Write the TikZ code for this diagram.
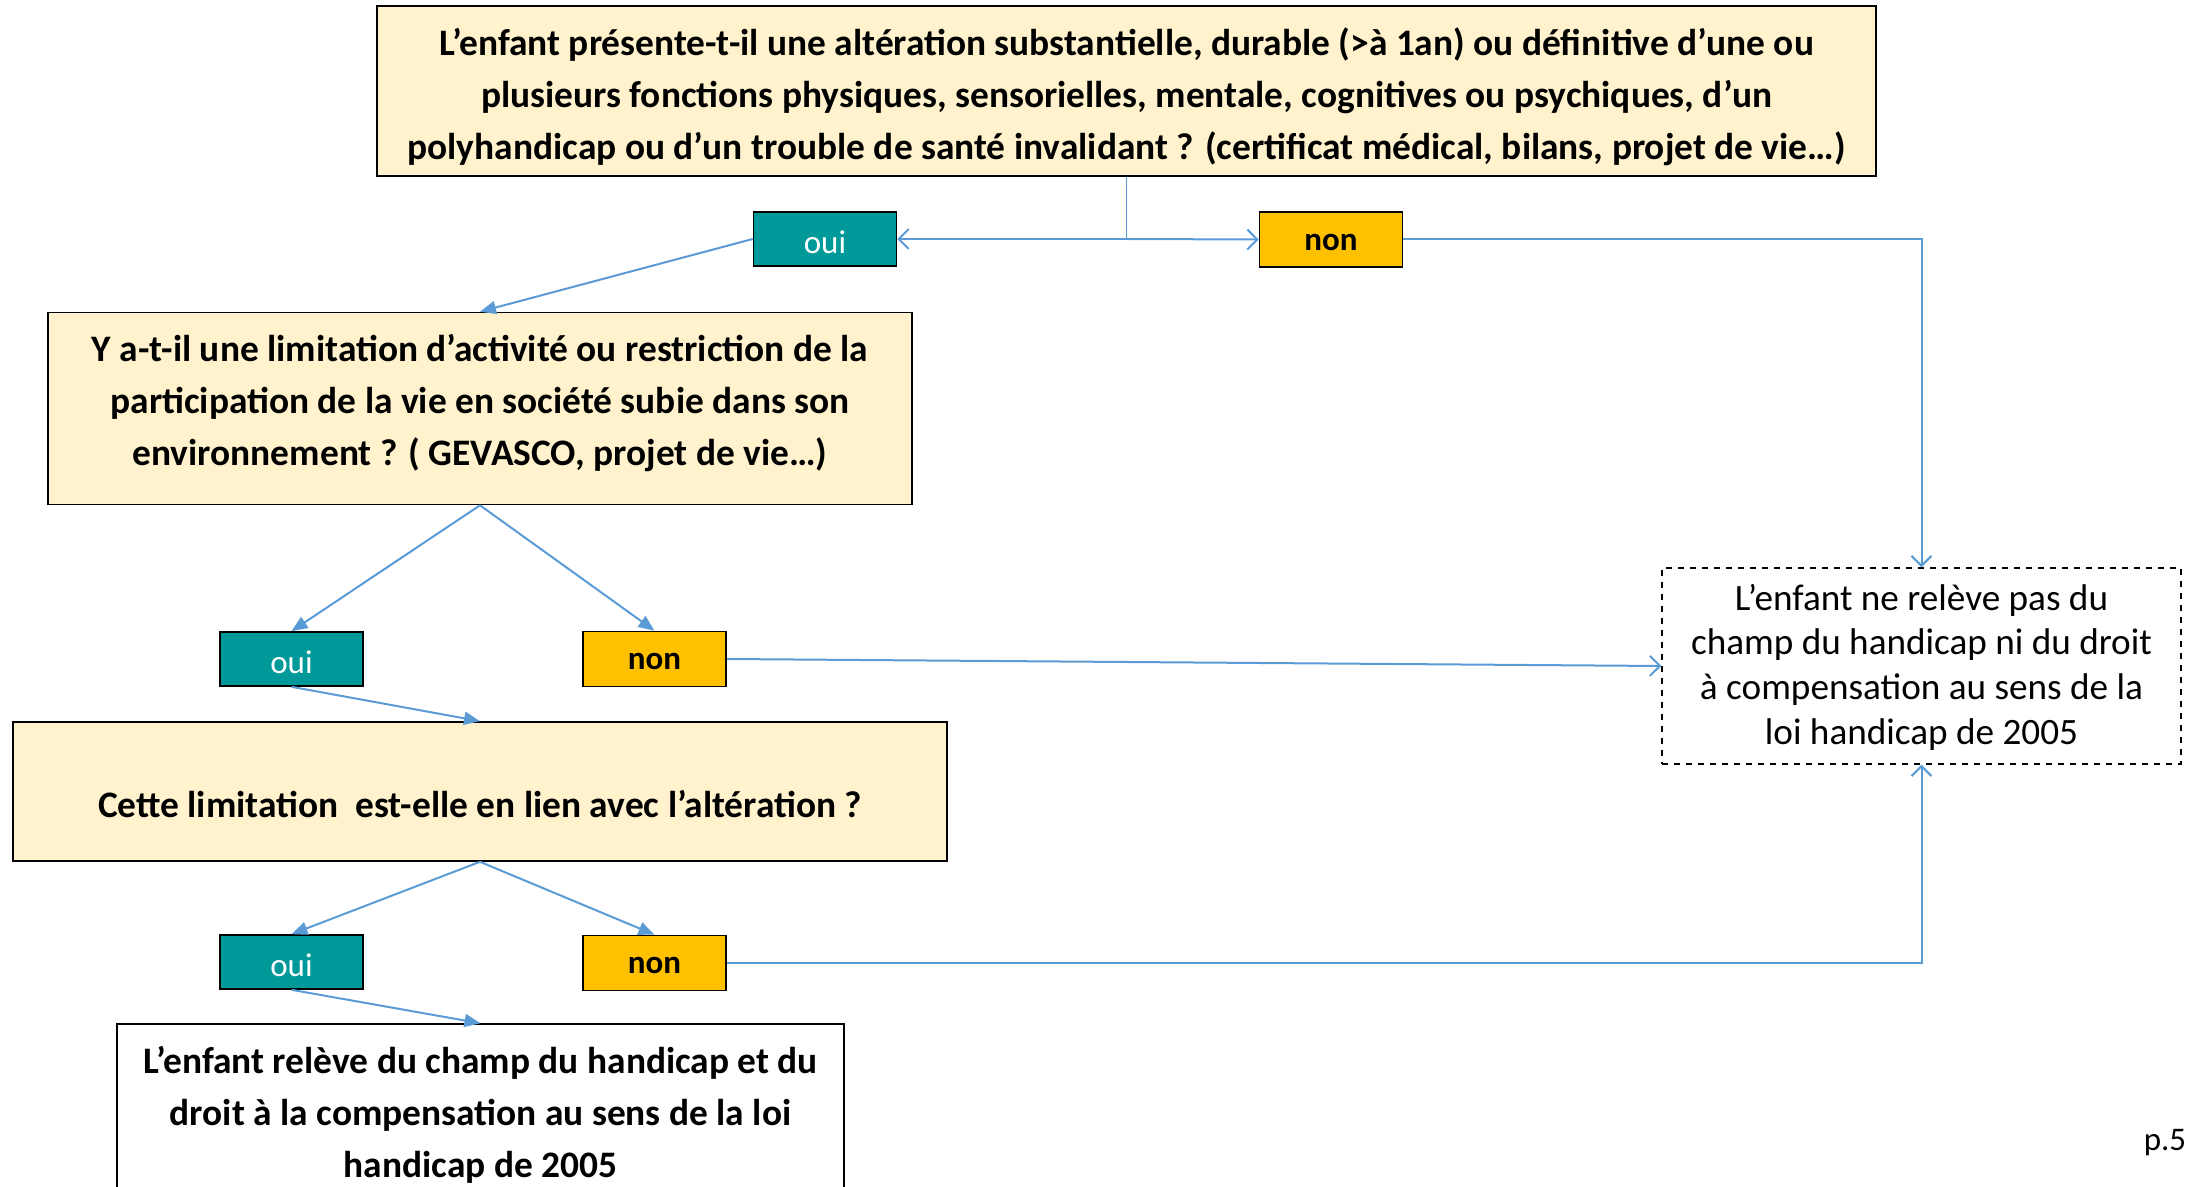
\documentclass[tikz,border=0pt]{standalone}
\usepackage{fontspec}
\setmainfont{Carlito}
\usetikzlibrary{arrows.meta}
\definecolor{beige}{HTML}{FFF2CC}
\definecolor{tealc}{HTML}{009999}
\definecolor{amber}{HTML}{FFC000}
\definecolor{linkc}{HTML}{5B9BD5}
\newcommand{\lowtxt}[1]{\raisebox{-1.4pt}[\height][0pt]{#1}}
\begin{document}
\begin{tikzpicture}[x=0.5pt,y=-0.5pt,
  qbox/.style={draw=black,line width=0.8pt,fill=beige,inner sep=0pt},
  endbox/.style={draw=black,line width=0.7pt,fill=white,inner sep=0pt},
  dbox/.style={draw=black,line width=0.7pt,dashed,fill=white,inner sep=0pt},
  qtext/.style={align=center,font=\fontsize{18.7}{25.9}\selectfont\bfseries,inner sep=0pt},
  dtext/.style={align=center,font=\fontsize{18.6}{22.3}\selectfont,inner sep=0pt},
  ouibox/.style={draw=black,line width=0.8pt,fill=tealc,text=white,minimum width=71.5pt,minimum height=27pt,inner sep=0pt,font=\fontsize{16.5}{20}\selectfont},
  nonbox/.style={draw=black,line width=0.8pt,fill=amber,text=black,minimum width=71.5pt,minimum height=27.5pt,inner sep=0pt,font=\fontsize{16.5}{20}\selectfont\bfseries},
  link/.style={draw=linkc,line width=1pt},
  ftip/.style={link,-{Stealth[length=8pt,width=6.5pt,inset=0pt]}},
  vtip/.style={link,-{Straight Barb[length=5pt,width=10pt]}}
]
\useasboundingbox (0,0) rectangle (2190,1187);

% question boxes
\node[qbox,minimum width=749.5pt,minimum height=85pt] (q1) at (1126.5,91) {};
\node[qtext] (t1) at (1126.5,97) {L’enfant présente-t-il une altération substantielle, durable (>à 1an) ou définitive d’une ou\\plusieurs fonctions physiques, sensorielles, mentale, cognitives ou psychiques, d’un\\polyhandicap ou d’un trouble de santé invalidant ? (certificat médical, bilans, projet de vie…)};

\node[qbox,minimum width=432pt,minimum height=96pt] (q2) at (480,408.5) {};
\node[qtext] (t2) at (480,403) {Y a-t-il une limitation d’activité ou restriction de la\\participation de la vie en société subie dans son\\environnement ? ( GEVASCO, projet de vie…)};

\node[qbox,minimum width=467pt,minimum height=69.5pt] (q3) at (480,791.5) {};
\node[qtext] (t3) at (480,804) {Cette limitation\ \ est-elle en lien avec l’altération ?};

\node[endbox,minimum width=363.5pt,minimum height=88pt] (q4) at (480.5,1112) {};
\node[qtext] (t4) at (480.5,1115) {L’enfant relève du champ du handicap et du\\droit à la compensation au sens de la loi\\handicap de 2005};

\node[dbox,minimum width=259.5pt,minimum height=98pt] (nd) at (1921.5,666) {};
\node[dtext] (tn) at (1921.5,667) {L’enfant ne relève pas du\\champ du handicap ni du droit\\à compensation au sens de la\\loi handicap de 2005};

% answer boxes
\node[ouibox] (oui1) at (825,239) {\lowtxt{oui}};
\node[nonbox] (non1) at (1331,239.5) {\lowtxt{non}};
\node[ouibox] (oui2) at (291.5,659) {\lowtxt{oui}};
\node[nonbox] (non2) at (654.5,659) {\lowtxt{non}};
\node[ouibox] (oui3) at (291.5,962) {\lowtxt{oui}};
\node[nonbox] (non3) at (654.5,963) {\lowtxt{non}};

\node[font=\fontsize{16.5}{20}\selectfont,inner sep=0pt] (pg) at (2165,1143) {p.5};

% connectors
\coordinate (s1) at (q1.south |- oui1.east);
\draw[link,line width=0.6pt] (q1.south) -- (s1);
\draw[vtip] (s1) -- (oui1.east);
\draw[vtip] (s1) -- (non1.west);
\draw[ftip] (oui1.west) -- (q2.north);
\draw[vtip] (non1.east) -- (non1.east -| nd.north) -- (nd.north);

\draw[ftip] (q2.south) -- (oui2.north);
\draw[ftip] (q2.south) -- (non2.north);
\draw[vtip] (non2.east) -- (nd.west);
\draw[ftip] (oui2.south) -- (q3.north);

\draw[ftip] (q3.south) -- (oui3.north);
\draw[ftip] (q3.south) -- (non3.north);
\draw[ftip] (oui3.south) -- (q4.north);
\draw[vtip] (non3.east) -- (non3.east -| nd.south) -- (nd.south);
\end{tikzpicture}
\end{document}
